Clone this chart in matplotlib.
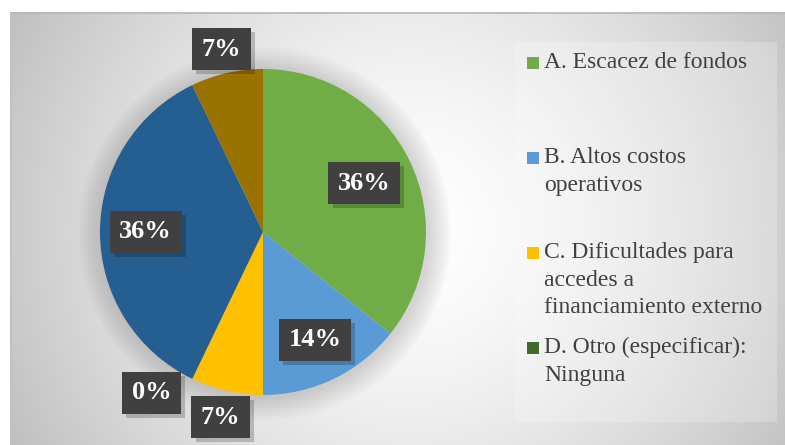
import numpy as np
import matplotlib
matplotlib.use("Agg")
import matplotlib.pyplot as plt
import matplotlib.patheffects as pe
from matplotlib.patches import Rectangle, Circle

# ---- data ----
categories = ["A. Escacez de fondos", "B. Altos costos\noperativos",
              "C. Dificultades para\naccedes a\nfinanciamiento externo",
              "D. Otro (especificar):\nNinguna", "E", "F"]
values = [5, 2, 1, 0, 5, 1]
colors = ["#70AD47", "#5B9BD5", "#FFC000", "#43682B", "#255E91", "#9A7200"]
legend_count = 4
label_radius = [0.69, 0.735, 1.165, 1.2, 0.72, 1.15]
label_angle_nudge = [0, 0, 0, -9, 0, 0]

W, H = 785, 445
fig = plt.figure(figsize=(W / 100, H / 100), dpi=100)
fig.patch.set_facecolor("white")

# ---- background gradient panel ----
x0, y0 = 10, 12
bg = fig.add_axes([x0 / W, 0, (W - x0) / W, (H - y0) / H])
bw, bh = W - x0, H - y0
yy, xx = np.mgrid[0:bh, 0:bw]
cx, cy = 400, 216
d = np.sqrt((xx - cx) ** 2 + (yy - cy) ** 2) / np.sqrt(cx ** 2 + cy ** 2)
val = np.clip(1 - 0.25 * d ** 1.5, 0, 1)
img = np.dstack([val, val, val])
bg.imshow(img, aspect="auto", extent=[0, bw, bh, 0], interpolation="bilinear")
bg.set_xlim(0, bw)
bg.set_ylim(bh, 0)
bg.axis("off")
bg.plot([0, bw], [0.5, 0.5], color="#b8b8b8", lw=1.2)
bg.plot([0.5, 0.5], [0, bh], color="#c0c0c0", lw=1.2)

# legend panel
bg.add_patch(Rectangle((515 - x0, 42 - y0), 262, 380, facecolor="white",
                       alpha=0.22, edgecolor="none"))

# ---- pie ----
cxp, cyp, R = 263, 232, 163
ax = fig.add_axes([(cxp - R) / W, (H - cyp - R) / H, 2 * R / W, 2 * R / H])
for k in range(12):
    ax.add_patch(Circle((0.01, -0.01), 1.0 + 0.012 * (k + 1),
                        facecolor="#707070", alpha=0.022, edgecolor="none",
                        clip_on=False))
wedges, _ = ax.pie(values, colors=colors, startangle=90, counterclock=False,
                   radius=1, wedgeprops=dict(linewidth=0))
ax.set_xlim(-1, 1)
ax.set_ylim(-1, 1)
ax.axis("off")

total = sum(values)
shadow = [pe.SimplePatchShadow(offset=(3, -3), shadow_rgbFace="black", alpha=0.2),
          pe.Normal()]
for w, v, r, nud in zip(wedges, values, label_radius, label_angle_nudge):
    mid = np.deg2rad((w.theta1 + w.theta2) / 2 + nud)
    x, y = r * np.cos(mid), r * np.sin(mid)
    txt = f"{v / total * 100:.0f}%"
    ax.text(x, y, txt, ha="center", va="center", fontsize=19,
            fontweight="bold", family="Liberation Serif", color="white",
            bbox=dict(boxstyle="square,pad=0.36", fc="#404040", ec="none",
                      path_effects=shadow))

# ---- legend (manual) ----
first_line_y = [63, 158, 253, 348]
for i in range(legend_count):
    yc = first_line_y[i]
    fig.patches.append(Rectangle((527 / W, (H - yc - 6) / H), 12 / W, 12 / H,
                                 facecolor=colors[i], edgecolor="none",
                                 transform=fig.transFigure, figure=fig))
    fig.text(544 / W, (H - yc + 11) / H, categories[i], ha="left", va="top",
             fontsize=17, family="Liberation Serif", color="#404040",
             linespacing=1.42)

fig.savefig("out.png", dpi=100)
